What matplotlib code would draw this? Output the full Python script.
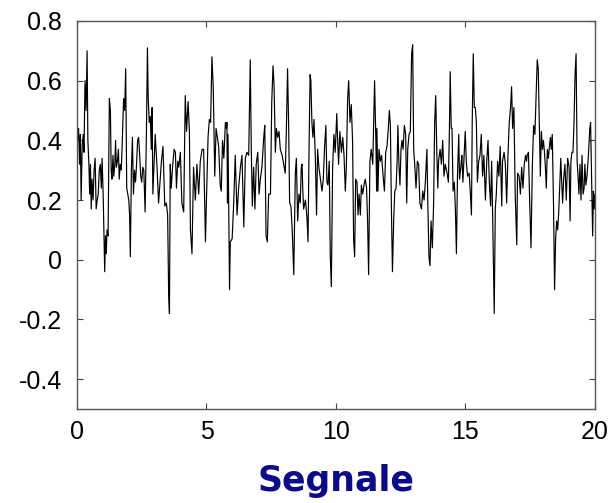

import matplotlib
matplotlib.use("Agg")
import matplotlib.pyplot as plt

time = [
    0.00, 0.03, 0.06, 0.10, 0.13, 0.16, 0.20, 0.24, 0.27, 0.31, 0.35, 0.39, 0.42, 0.46, 0.49, 0.52,
    0.55, 0.58, 0.62, 0.66, 0.70, 0.74, 0.78, 0.82, 0.86, 0.90, 0.94, 0.97, 1.01, 1.04, 1.07, 1.10,
    1.13, 1.16, 1.20, 1.25, 1.29, 1.32, 1.35, 1.39, 1.42, 1.46, 1.49, 1.52, 1.56, 1.60, 1.63, 1.67,
    1.71, 1.75, 1.80, 1.84, 1.88, 1.92, 1.96, 2.00, 2.03, 2.06, 2.10, 2.14, 2.18, 2.22, 2.26, 2.30,
    2.34, 2.38, 2.42, 2.46, 2.50, 2.54, 2.58, 2.63, 2.68, 2.72, 2.75, 2.79, 2.83, 2.87,
    2.90, 2.93, 3.02, 3.09, 3.15, 3.26, 3.32, 3.39, 3.45, 3.50, 3.54, 3.57, 3.60, 3.64, 3.69, 3.75,
    3.80, 3.84, 3.89, 3.93, 3.99, 4.05, 4.12, 4.18, 4.23, 4.29, 4.34, 4.38, 4.44, 4.50, 4.57, 4.63,
    4.70, 4.76, 4.83, 4.89, 4.96, 4.99, 5.06, 5.11, 5.16, 5.21, 5.26, 5.32, 5.37, 5.42, 5.47, 5.53,
    5.57, 5.62, 5.67, 5.73, 5.77,
    5.79, 5.81, 5.83, 5.86, 5.89, 5.92, 5.99, 6.05, 6.11, 6.18, 6.24, 6.31, 6.37, 6.44, 6.50, 6.56,
    6.63, 6.69, 6.73, 6.77, 6.82, 6.87, 6.92, 6.98, 7.03, 7.08, 7.14, 7.21, 7.25, 7.30, 7.35, 7.40,
    7.47, 7.52, 7.57, 7.61, 7.66, 7.70, 7.75, 7.80, 7.85, 7.92, 7.98, 8.04, 8.08, 8.13, 8.17, 8.21,
    8.26, 8.31, 8.37, 8.43, 8.47, 8.52, 8.57, 8.62, 8.66,
    8.69, 8.72, 8.75, 8.82, 8.88, 8.92, 8.96, 9.00, 9.03, 9.07, 9.11, 9.15, 9.20, 9.25, 9.29, 9.34,
    9.40, 9.46, 9.51, 9.56, 9.61, 9.65, 9.69, 9.74, 9.78, 9.82, 9.87, 9.92, 9.97, 10.03, 10.06, 10.10,
    10.15, 10.21, 10.26, 10.31, 10.36, 10.40, 10.45, 10.49, 10.54, 10.59, 10.64, 10.68, 10.72, 10.76,
    10.81, 10.85, 10.89, 10.94, 10.98, 11.03, 11.08, 11.13, 11.18, 11.22, 11.26, 11.31, 11.36, 11.42,
    11.45, 11.49, 11.54, 11.57,
    11.58, 11.62, 11.66, 11.71, 11.76, 11.81, 11.87, 11.92, 11.97, 12.02, 12.06, 12.10, 12.14, 12.18,
    12.23, 12.27, 12.32, 12.36, 12.39, 12.43, 12.47, 12.51, 12.55, 12.59, 12.64, 12.69, 12.73, 12.77,
    12.82, 12.87, 12.92, 12.96, 13.00, 13.04, 13.09, 13.14, 13.19, 13.24, 13.30, 13.35, 13.40, 13.45,
    13.51, 13.55, 13.59, 13.63, 13.67, 13.72, 13.77, 13.81, 13.85, 13.89, 13.93, 13.96, 14.02, 14.07,
    14.12, 14.17, 14.22, 14.29, 14.34, 14.38, 14.41, 14.45,
    14.48, 14.52, 14.57, 14.61, 14.65, 14.69, 14.74, 14.77, 14.83, 14.86, 14.90, 14.96, 14.99, 15.03,
    15.08, 15.14, 15.19, 15.23, 15.26, 15.30, 15.34, 15.38, 15.42, 15.46, 15.51, 15.56, 15.61, 15.66,
    15.71, 15.77, 15.82, 15.87, 15.92, 15.97, 16.01, 16.05, 16.09, 16.11, 16.15, 16.19, 16.24, 16.29,
    16.34, 16.40, 16.43, 16.49, 16.54, 16.59, 16.64, 16.69, 16.74, 16.78, 16.82, 16.87, 16.92, 16.98,
    17.01, 17.07, 17.12, 17.17, 17.22, 17.27, 17.32, 17.36,
    17.38, 17.43, 17.48, 17.53, 17.58, 17.63, 17.68, 17.74, 17.77, 17.81, 17.85, 17.89, 17.93, 17.97,
    18.01, 18.04, 18.08, 18.12, 18.16, 18.20, 18.24, 18.28, 18.31, 18.35, 18.40, 18.44, 18.48, 18.52,
    18.56, 18.60, 18.64, 18.68, 18.71, 18.75, 18.79, 18.84, 18.89, 18.945, 19.00, 19.04, 19.07, 19.11,
    19.15, 19.19, 19.23, 19.27, 19.31, 19.34, 19.38, 19.42, 19.46, 19.50, 19.54, 19.58, 19.61, 19.65,
    19.69, 19.74, 19.80, 19.83, 19.87, 19.91, 19.94, 19.97, 20.00,
]

signal = [
    0.44, 0.40, 0.44, 0.32, 0.42, 0.20, 0.38, 0.42, 0.36, 0.60, 0.50, 0.70, 0.40, 0.32, 0.22, 0.32,
    0.17, 0.27, 0.20, 0.30, 0.34, 0.17, 0.20, 0.22, 0.30, 0.32, 0.24, 0.34, 0.22, 0.08, -0.04, 0.08,
    0.02, 0.10, 0.08, 0.54, 0.50, 0.30, 0.27, 0.35, 0.28, 0.32, 0.40, 0.31, 0.33, 0.37, 0.27, 0.32,
    0.30, 0.40, 0.54, 0.50, 0.64, 0.24, 0.22, 0.20, 0.15, 0.01, 0.30, 0.41, 0.22, 0.30, 0.26, 0.32,
    0.40, 0.41, 0.35, 0.28, 0.26, 0.31, 0.30, 0.16, 0.42, 0.71, 0.54, 0.46, 0.48, 0.37,
    0.51, 0.22, 0.42, 0.31, 0.19, 0.33, 0.38, 0.18, 0.19, 0.15, -0.12, -0.18, 0.32, 0.24, 0.31, 0.37,
    0.36, 0.24, 0.33, 0.31, 0.36, 0.19, 0.16, 0.55, 0.43, 0.53, 0.43, 0.10, 0.02, 0.31, 0.20, 0.32,
    0.22, 0.33, 0.37, 0.37, 0.06, 0.17, 0.41, 0.47, 0.46, 0.68, 0.58, 0.28, 0.44, 0.41, 0.38, 0.25,
    0.23, 0.40, 0.34, 0.46, 0.44,
    0.46, 0.19, 0.42, 0.15, -0.10, 0.06, 0.07, 0.19, 0.35, 0.15, 0.24, 0.31, 0.35, 0.11, 0.34, 0.36,
    0.35, 0.67, 0.37, 0.18, 0.31, 0.17, 0.32, 0.36, 0.22, 0.27, 0.31, 0.41, 0.45, 0.08, 0.06, 0.22,
    0.22, 0.53, 0.65, 0.58, 0.36, 0.44, 0.41, 0.43, 0.37, 0.35, 0.32, 0.29, 0.42, 0.64, 0.46, 0.19,
    0.18, 0.10, -0.05, 0.29, 0.34, 0.13, 0.22, 0.19, 0.31,
    0.32, 0.23, 0.17, 0.20, 0.14, 0.06, 0.37, 0.62, 0.60, 0.46, 0.41, 0.47, 0.35, 0.15, 0.37, 0.31,
    0.27, 0.23, 0.27, 0.38, 0.45, 0.26, 0.25, 0.33, 0.01, -0.09, 0.31, 0.42, 0.36, 0.49, 0.41, 0.32,
    0.43, 0.36, 0.41, 0.35, 0.23, 0.31, 0.54, 0.60, 0.46, 0.52, 0.40, 0.07, 0.01, 0.27,
    0.26, 0.15, 0.22, 0.15, 0.25, 0.22, 0.25, 0.27, 0.24, 0.13, -0.05, 0.33, 0.37, 0.32,
    0.44, 0.60, 0.40, 0.23,
    0.44, 0.23, 0.37, 0.33, 0.35, 0.29, 0.23, 0.36, 0.38, 0.44, 0.50, 0.45, 0.17, -0.04,
    0.14, 0.23, 0.24, 0.33, 0.45, 0.32, 0.25, 0.37, 0.40, 0.37, 0.45, 0.42, 0.19, 0.37,
    0.42, 0.43, 0.69, 0.72, 0.37, 0.32, 0.24, 0.33, 0.32, 0.19, 0.17, 0.23, 0.20, 0.26,
    0.37, 0.17, 0.01, -0.02, 0.13, 0.04, 0.19, 0.46, 0.55, 0.37, 0.24, 0.33, 0.37, 0.32,
    0.40, 0.28, 0.32, 0.29, 0.26, 0.44, 0.63, 0.44,
    0.44, 0.23, 0.26, 0.17, 0.02, 0.28, 0.42, 0.27, 0.32, 0.35, 0.26, 0.37, 0.43, 0.33,
    0.28, 0.29, 0.22, 0.15, 0.46, 0.69, 0.51, 0.51, 0.46, 0.26, 0.33, 0.35, 0.42, 0.28,
    0.35, 0.20, 0.33, 0.40, 0.26, 0.18, 0.33, 0.14, -0.08, -0.18, 0.17, 0.22, 0.33, 0.28,
    0.38, 0.18, 0.33, 0.36, 0.32, 0.19, 0.35, 0.46, 0.51, 0.58, 0.44, 0.51, 0.22, 0.05,
    0.29, 0.28, 0.22, 0.31, 0.24, 0.32, 0.35, 0.33,
    0.35, 0.36, 0.19, 0.04, 0.31, 0.45, 0.42, 0.58, 0.67, 0.64, 0.46, 0.28, 0.43, 0.37,
    0.40, 0.37, 0.32, 0.24, 0.37, 0.34, 0.38, 0.41, 0.37, 0.42, 0.18, -0.10, 0.07, 0.13,
    0.10, 0.16, 0.25, 0.34, 0.27, 0.19, 0.27, 0.32, 0.20, 0.34, 0.31, 0.13, 0.33, 0.36,
    0.36, 0.46, 0.62, 0.69, 0.33, 0.29, 0.22, 0.32, 0.20, 0.35, 0.22, 0.24, 0.32, 0.25,
    0.28, 0.34, 0.44, 0.46, 0.26, 0.08, 0.23, 0.17, 0.22,
]

x_ticks = [0, 5, 10, 15, 20]
y_ticks = [-0.4, -0.2, 0, 0.2, 0.4, 0.6, 0.8]
y_labels = ["-0.4", "-0.2", "0", "0.2", "0.4", "0.6", "0.8"]
title = "Segnale"

plt.rcParams["font.family"] = ["Liberation Sans", "DejaVu Sans"]

fig = plt.figure(figsize=(6.12, 5.03), dpi=100)
ax = fig.add_axes([0.1258, 0.1869, 0.8464, 0.7714])

ax.plot(time, signal, color="black", linewidth=0.85)

ax.set_xlim(0, 20)
ax.set_ylim(-0.5, 0.8)
ax.set_xticks(x_ticks)
ax.set_xticklabels([str(t) for t in x_ticks])
ax.set_yticks(y_ticks)
ax.set_yticklabels(y_labels)
ax.tick_params(direction="in", length=4, width=0.8, colors="#444444",
               labelcolor="black", labelsize=18, top=True, right=True)
ax.tick_params(axis="x", pad=8)
ax.tick_params(axis="y", pad=11)
for spine in ax.spines.values():
    spine.set_color("#555555")
    spine.set_linewidth(1.0)

fig.text(0.549, 1 - 481 / 503, title, ha="center", va="center",
         fontsize=25, fontweight="bold", color="#0a0a8c", family="DejaVu Sans")

fig.savefig("out.png", dpi=100)
